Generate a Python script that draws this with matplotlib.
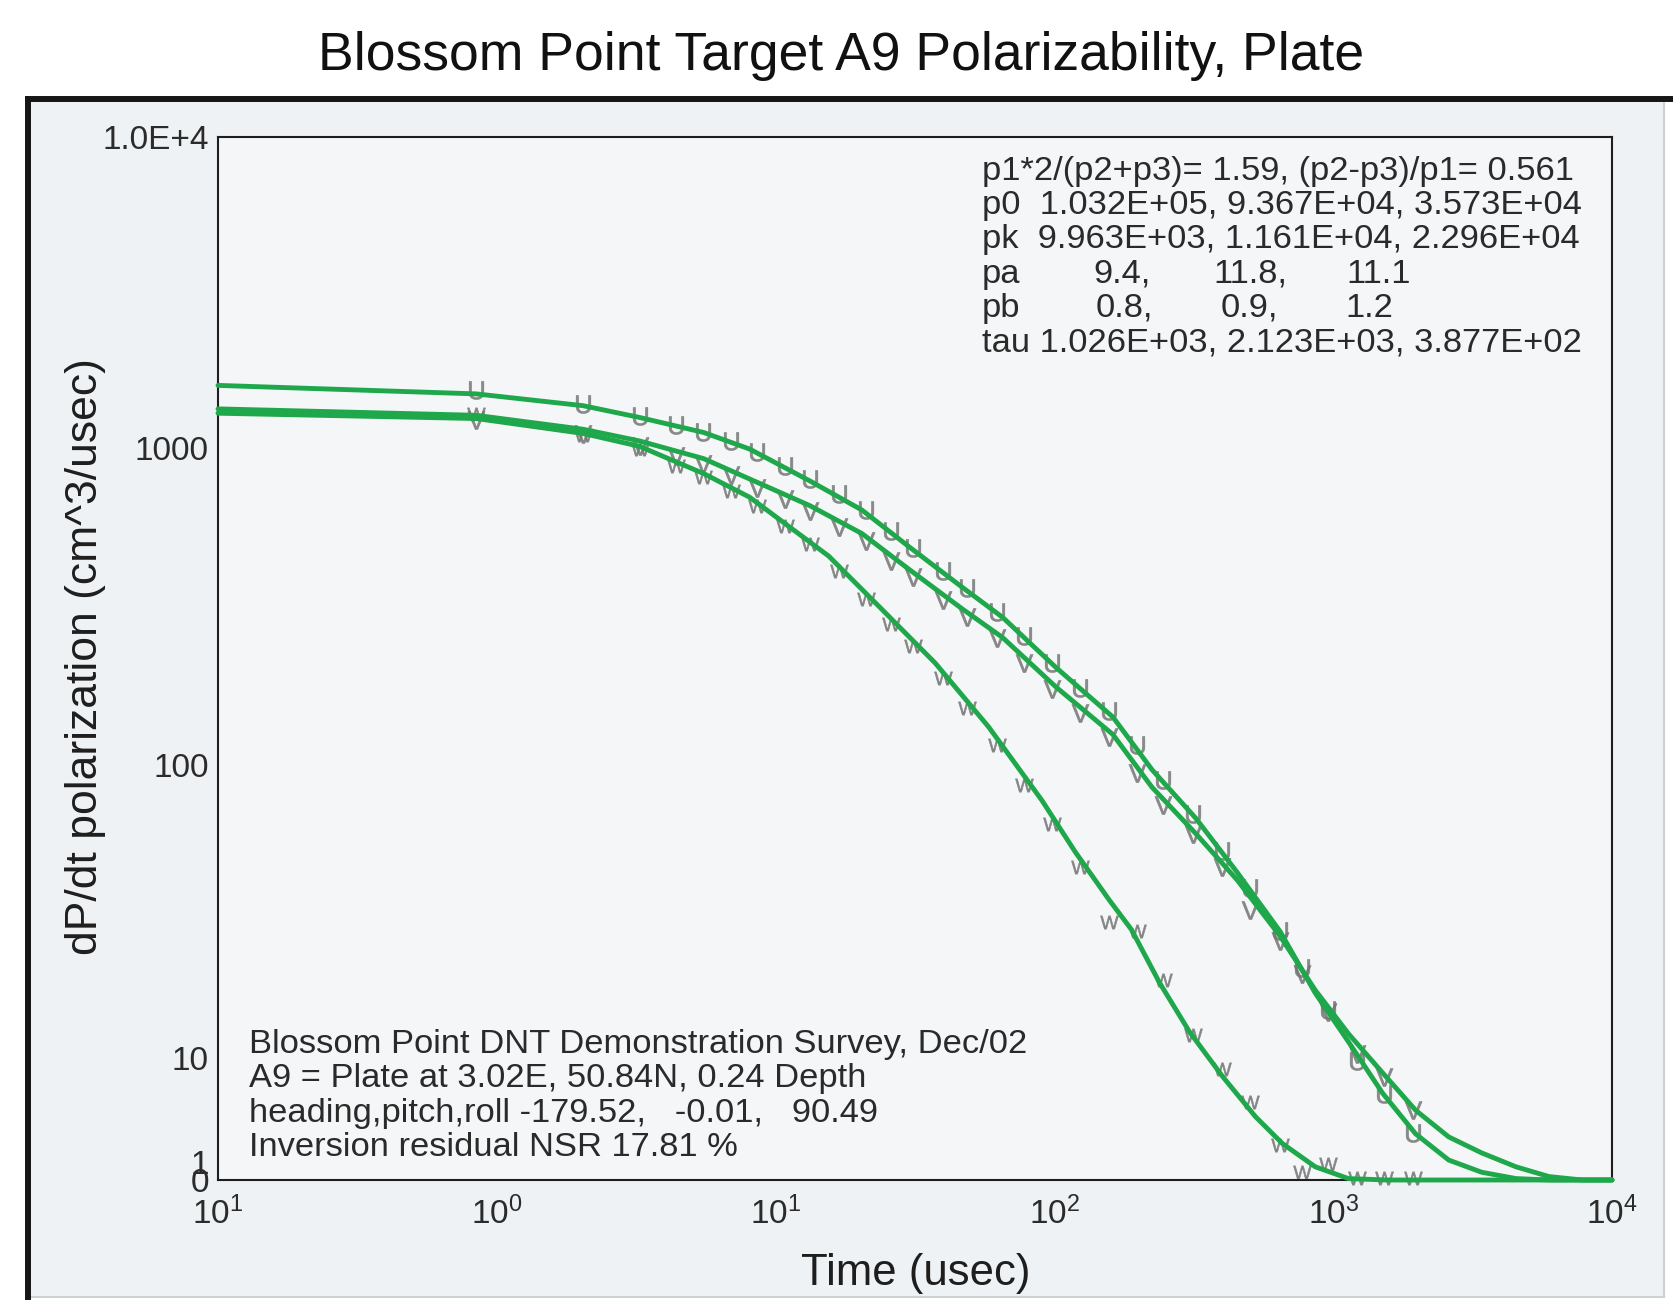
import numpy as np
import matplotlib
matplotlib.use("Agg")
import matplotlib.pyplot as plt
from matplotlib.lines import Line2D
from matplotlib.patches import Rectangle
from matplotlib.ticker import FixedLocator, FixedFormatter, NullLocator

# ---------------- data ----------------
# fitted decay curves for the three principal axes (time in usec)
U_FIT_T = [0.1, 0.844, 2.04, 3.25, 5.52, 8.07, 13.3, 20.4, 30.0, 46.6, 65.2, 101, 162, 224,
           321, 453, 645, 862, 1134, 1503, 1975, 2596, 3412, 4523, 5944, 7814, 10000]
U_FIT = [1590, 1493, 1368, 1254, 1122, 993, 787, 638, 490, 365, 293, 204, 142, 96.4,
         66.8, 44.0, 27.9, 17.2, 11.6, 5.36, 2.24, 1.08, 0.37, 0.06, 0, 0, 0]

V_FIT_T = [0.1, 0.844, 2.04, 3.25, 5.52, 8.07, 13.3, 20.4, 30.0, 46.6, 65.2, 101, 162, 224,
           321, 453, 645, 862, 1134, 1503, 1975, 2596, 3412, 4523, 5944, 7814, 10000]
V_FIT = [1336, 1274, 1149, 1054, 926, 799, 658, 538, 416, 312, 253, 177, 125, 84.4,
         59.4, 41.5, 26.9, 17.6, 12.4, 7.9, 3.79, 2.08, 1.36, 0.71, 0.15, 0, 0]

W_FIT_T = [0.1, 0.844, 2.04, 3.25, 5.52, 8.07, 15.5, 24.1, 37.4, 58.1, 90.3, 118.7, 157,
           189, 238, 305, 400, 526, 656, 862, 1134, 1557, 10000]
W_FIT = [1294, 1244, 1114, 1013, 831, 700, 457, 310, 210, 132, 76.3, 51.6, 35.7,
         28.3, 18.7, 12.6, 7.43, 3.31, 1.77, 0.71, 0.06, 0, 0]

# measured gate data
GATE_T = [0.84, 2.04, 3.25, 4.4, 5.5, 6.9, 8.6, 10.8, 13.3, 16.9, 21.1, 25.9, 31.2, 40,
          48.7, 62, 78, 98, 124, 157, 198, 245, 314, 398, 505, 645, 770, 960, 1220,
          1520, 1930]
U_OBS = [1540, 1390, 1270, 1190, 1130, 1050, 975, 880, 800, 715, 640, 550, 485, 410,
         362, 305, 255, 210, 175, 148, 116, 89, 69, 52, 39, 28, 21, 15, 9.6, 5.3, 2.3]
V_OBS = [1230, 1110, 1015, 945, 890, 820, 750, 690, 635, 565, 510, 442, 393, 333,
         294, 252, 210, 174, 146, 123, 94, 74, 59, 46, 33, 26, 20, 14.8, 10.4, 7.3, 3.8]
W_OBS = [1290, 1105, 990, 880, 810, 730, 655, 570, 500, 410, 335, 280, 238, 188,
         152, 116, 86, 64, 46, 30, 28, 19, 12.3, 8.4, 4.5, 1.7, 0.4, 0.9, 0.1, 0.1, 0.1]

X_TICKS = [0.1, 1, 10, 100, 1000, 10000]
X_TICK_LABELS = [r"$10^{1}$", r"$10^{0}$", r"$10^{1}$", r"$10^{2}$", r"$10^{3}$", r"$10^{4}$"]
Y_TICKS = [0, 1, 10, 100, 1000, 10000]
Y_TICK_LABELS = ["0", "1", "10", "100", "1000", "1.0E+4"]

TITLE = "Blossom Point Target A9 Polarizability, Plate"
FIT_LINES = [
    "p1*2/(p2+p3)= 1.59, (p2-p3)/p1= 0.561",
    "p0  1.032E+05, 9.367E+04, 3.573E+04",
    "pk  9.963E+03, 1.161E+04, 2.296E+04",
]
PA_VALUES = ["9.4,", "11.8,", "11.1"]
PB_VALUES = ["0.8,", "0.9,", "1.2"]
TAU_LINE = "tau 1.026E+03, 2.123E+03, 3.877E+02"
SURVEY_LINES = [
    "Blossom Point DNT Demonstration Survey, Dec/02",
    "A9 = Plate at 3.02E, 50.84N, 0.24 Depth",
    "heading,pitch,roll -179.52,   -0.01,   90.49",
    "Inversion residual NSR 17.81 %",
]

# ---------------- compressed-log y scale ----------------
# piecewise-linear map of log10(1+y) onto the axis height, with softened corners
_KNOT_U = np.log10(1.0 + np.array(Y_TICKS, dtype=float))
_KNOT_F = np.array([0.0, 17.0, 120.0, 415.0, 732.0, 1043.0]) / 1043.0
_SEG_SLOPE = np.diff(_KNOT_F) / np.diff(_KNOT_U)
_BEND = 0.02


def _ramp(x):
    return _BEND * np.logaddexp(0.0, x / _BEND)


def _axis_pos(u):
    u = np.asarray(u, dtype=float)
    out = _KNOT_F[0] + _SEG_SLOPE[0] * (u - _KNOT_U[0])
    for k in range(1, len(_KNOT_U) - 1):
        out = out + (_SEG_SLOPE[k] - _SEG_SLOPE[k - 1]) * _ramp(u - _KNOT_U[k])
    return out


_U_TAB = np.linspace(-0.5, 4.6, 40001)
_F_TAB = _axis_pos(_U_TAB)


def y_forward(y):
    y = np.asarray(y, dtype=float)
    return _axis_pos(np.log10(1.0 + np.maximum(y, -0.68)))


def y_inverse(f):
    u = np.interp(np.asarray(f, dtype=float), _F_TAB, _U_TAB)
    return 10.0**u - 1.0


# ---------------- figure ----------------
plt.rcParams["font.family"] = ["Liberation Sans", "DejaVu Sans"]
plt.rcParams["mathtext.fontset"] = "custom"
plt.rcParams["mathtext.rm"] = "Liberation Sans"
plt.rcParams["mathtext.it"] = "Liberation Sans:italic"
plt.rcParams["mathtext.bf"] = "Liberation Sans:bold"

W_PX, H_PX = 1674, 1300
fig = plt.figure(figsize=(W_PX / 100, H_PX / 100), dpi=100)
fig.patch.set_facecolor("white")


def fx(x):
    return x / W_PX


def fy(y):
    return 1 - y / H_PX


# panel behind the plot
fig.add_artist(Rectangle((fx(28), fy(1297)), fx(1664) - fx(28), fy(99) - fy(1297),
                         transform=fig.transFigure, facecolor="#eff2f4",
                         edgecolor="none", zorder=0))
fig.add_artist(Line2D([fx(1664), fx(1664)], [fy(102), fy(1297)], transform=fig.transFigure,
                      color="#cdd1d4", lw=1.5, zorder=1))
fig.add_artist(Line2D([fx(28), fx(1664)], [fy(1297), fy(1297)], transform=fig.transFigure,
                      color="#cdd1d4", lw=1.5, zorder=1))
fig.add_artist(Line2D([fx(25), fx(1674)], [fy(99), fy(99)], transform=fig.transFigure,
                      color="#161616", lw=4.3, solid_capstyle="butt", zorder=2))
fig.add_artist(Line2D([fx(28), fx(28)], [fy(96), fy(1300)], transform=fig.transFigure,
                      color="#161616", lw=4.3, solid_capstyle="butt", zorder=2))

ax = fig.add_axes([fx(218), fy(1180), fx(1612) - fx(218), fy(137) - fy(1180)])
ax.set_facecolor("#f4f6f7")
ax.set_xscale("log")
ax.set_yscale("function", functions=(y_forward, y_inverse))
ax.set_xlim(0.1, 10000)
ax.set_ylim(0, 10000)

green = "#1fa84b"
marker_grey = "#767676"
for vals, letter in ((U_OBS, "U"), (V_OBS, "V"), (W_OBS, "W")):
    ax.plot(GATE_T, vals, linestyle="none", marker=r"$\mathrm{%s}$" % letter,
            ms=13, color=marker_grey, mec=marker_grey, mew=0.4, alpha=0.85,
            zorder=2, clip_on=False)

for tt, vv in ((U_FIT_T, U_FIT), (V_FIT_T, V_FIT), (W_FIT_T, W_FIT)):
    ax.plot(tt, vv, color=green, lw=3.5, solid_capstyle="round",
            solid_joinstyle="round", zorder=3, clip_on=False)

ax.xaxis.set_major_locator(FixedLocator(X_TICKS))
ax.xaxis.set_major_formatter(FixedFormatter(X_TICK_LABELS))
ax.xaxis.set_minor_locator(NullLocator())
ax.yaxis.set_major_locator(FixedLocator(Y_TICKS))
ax.yaxis.set_major_formatter(FixedFormatter(Y_TICK_LABELS))
ax.yaxis.set_minor_locator(NullLocator())
ax.tick_params(axis="both", length=0, labelsize=24, labelcolor="#2b2b2b")
ax.tick_params(axis="y", pad=6.5)
ax.tick_params(axis="x", pad=12)
for sp in ax.spines.values():
    sp.set_color("#1e1e1e")
    sp.set_linewidth(1.5)

# titles and axis labels
fig.text(fx(841), fy(70), TITLE, ha="center", va="baseline", fontsize=38.5, color="#111111")
fig.text(fx(86), fy(657), "dP/dt polarization (cm^3/usec)", rotation=90,
         ha="center", va="center", fontsize=32, color="#1e1e1e")
fig.text(fx(916), fy(1273), "Time (usec)", ha="center", va="center",
         fontsize=31.5, color="#1e1e1e")

# fit parameters block
txt_kw = dict(fontsize=24.8, color="#2a2a2a", va="baseline")
base = 180.0
step = 34.2
for i, line in enumerate(FIT_LINES):
    fig.text(fx(982), fy(base + i * step), line, ha="left", **txt_kw)
fig.text(fx(982), fy(base + 3 * step), "pa", ha="left", **txt_kw)
for val, xr in zip(PA_VALUES, (1151, 1287, 1411)):
    fig.text(fx(xr), fy(base + 3 * step), val, ha="right", **txt_kw)
fig.text(fx(982), fy(base + 4 * step), "pb", ha="left", **txt_kw)
for val, xr in zip(PB_VALUES, (1153, 1278, 1393)):
    fig.text(fx(xr), fy(base + 4 * step), val, ha="right", **txt_kw)
fig.text(fx(982), fy(base + 5 * step), TAU_LINE, ha="left", **txt_kw)

# survey information block
for i, line in enumerate(SURVEY_LINES):
    fig.text(fx(249), fy(1053 + i * 34.5), line, ha="left", **txt_kw)

fig.savefig("out.png", dpi=100, facecolor="white")
